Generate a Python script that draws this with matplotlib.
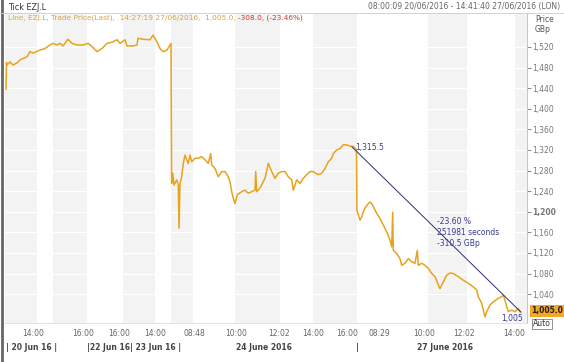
import matplotlib.pyplot as plt
from matplotlib.ticker import FixedLocator

plt.rcParams['font.family'] = ['DejaVu Sans']

# chart position (compressed tick axis) and trade price, GBp
pos = [6.0, 6.5, 7, 10, 13, 17, 20, 27, 30, 33, 40, 45, 50, 53, 57, 60, 63, 68, 72, 77, 83,
       88, 92, 97, 102, 107, 113, 117, 120, 125, 127, 133, 137, 138, 143, 150, 153, 157,
       160, 163, 167, 170, 171,
       171.6, 172.7, 174, 176.7, 178.3, 179, 180, 181.7, 183.3, 185, 186.7, 188.3, 190,
       191.7, 195, 198.3, 201.7, 205, 208.3, 210.7, 211.7, 215, 218.3, 221.7, 225, 228.3,
       230, 231.7, 233.3, 235, 237.3, 241.7, 245, 248.3, 251.7, 255, 255.7, 256.7, 260,
       265, 268.3, 271.7, 275, 278.3, 281.7, 285, 288.3, 291.7, 293.3, 296.7, 300, 303.3,
       306.7, 310, 313.3, 318.3, 321.7, 325, 328.3, 331.7, 333.3, 336.7, 340, 343.3,
       346.7, 350, 353.3, 356.5,
       356.9, 358.3, 360, 361.7, 363.3, 365, 368.3, 370, 371.7, 373.3, 376.7, 380, 383.3,
       386.7, 390, 391.7, 392.7, 393.3, 396.7, 400, 401.7, 405, 408.3, 411.7, 415, 417.3,
       418.3, 421.7, 425, 428.3, 431.7, 435, 438.3, 440, 443.3, 446.7, 450, 453.3, 458.3,
       463.3, 468.3, 473.3, 476.7, 478.3, 481.7, 483.3, 485, 486.7, 490, 493.3, 498.3,
       501.7, 503.3, 505, 506.7, 508.3, 511.7, 515, 518.3, 520]
price = [1438, 1490, 1485, 1491, 1485, 1489, 1495, 1501, 1511, 1508, 1514, 1517, 1524, 1527,
         1524, 1527, 1522, 1535, 1527, 1524, 1524, 1527, 1521, 1511, 1517, 1527, 1530, 1534,
         1527, 1534, 1522, 1522, 1524, 1537, 1535, 1534, 1543, 1530, 1517, 1511, 1514,
         1524, 1527,
         1255, 1275, 1252, 1262, 1252, 1168, 1255, 1268, 1294, 1310, 1301, 1294, 1310,
         1297, 1304, 1304, 1307, 1301, 1294, 1313, 1291, 1284, 1268, 1278, 1278, 1268,
         1258, 1239, 1226, 1216, 1233, 1239, 1242, 1236, 1239, 1242, 1278, 1239, 1246,
         1265, 1294, 1278, 1265, 1275, 1278, 1278, 1268, 1262, 1242, 1262, 1255, 1265,
         1272, 1278, 1278, 1272, 1275, 1284, 1297, 1304, 1313, 1320, 1323, 1330, 1330,
         1327, 1327, 1320,
         1203, 1194, 1184, 1190, 1200, 1207, 1216, 1219, 1216, 1210, 1197, 1187, 1174,
         1161, 1145, 1132, 1199, 1125, 1119, 1109, 1096, 1100, 1109, 1103, 1100, 1125,
         1096, 1100, 1096, 1090, 1080, 1074, 1058, 1051, 1064, 1077, 1081, 1080, 1074,
         1067, 1061, 1054, 1048, 1035, 1022, 1009, 996, 1006, 1019, 1025, 1032, 1035,
         1038, 1028, 1016, 1006, 1009, 1006, 1012, 1006]

band_edges = [5, 37, 53, 87, 123, 155, 171, 193, 235, 280, 313, 357, 428, 467, 515, 527]

time_pos = [33, 83, 119, 155, 194, 236, 279, 313, 347, 379, 424, 464, 514]
time_labels = ['14:00', '16:00', '16:00', '14:00', '08:48', '10:00', '12:02', '14:00',
               '16:00', '08:29', '10:00', '12:02', '14:00']
price_ticks = [1040, 1080, 1120, 1160, 1200, 1240, 1280, 1320, 1360, 1400, 1440, 1480, 1520]

trend_start = (352, 1326)
trend_end = (521, 1005)

W, H = 564, 362
fig = plt.figure(figsize=(W / 100, H / 100), dpi=100)
fig.patch.set_facecolor('white')
ax = fig.add_axes([5 / W, (H - 323) / H, 522 / W, 310 / H])

# alternating background bands
for i in range(len(band_edges) - 1):
    c = '#f3f3f3' if i % 2 == 0 else 'white'
    ax.axvspan(band_edges[i], band_edges[i + 1], color=c, lw=0, zorder=0)
for p in price_ticks:
    ax.axhline(p, color='white', lw=0.8, zorder=1)

ax.plot(pos, price, color='#e8a31c', lw=1.1, zorder=3)

# trend measurement
ax.plot([trend_start[0], trend_end[0]], [trend_start[1], trend_end[1]],
        color='#2e2e7a', lw=0.7, zorder=4)
ax.text(trend_start[0] + 3, trend_start[1] - 2, '1,315.5', color='#3a3a90', fontsize=5.5,
        va='center', ha='left', zorder=5)
ax.text(trend_end[0] - 9, trend_end[1] - 12, '1,005', color='#3a3a90', fontsize=5.5,
        va='center', ha='center', zorder=5)
ax.text(437, 1160, '-23.60 %\n251981 seconds\n-310.5 GBp', color='#3a3a90',
        fontsize=5.5, va='center', ha='left', linespacing=1.25, zorder=5)

ax.set_xlim(5, 527)
ax.set_ylim(984, 1586)

ax.yaxis.tick_right()
ax.yaxis.set_major_locator(FixedLocator(price_ticks))
ax.set_yticklabels([f'{p:,}' for p in price_ticks])
for lab in ax.get_yticklabels():
    if lab.get_text() == '1,200':
        lab.set_fontweight('bold')
        lab.set_color('#333333')
ax.tick_params(axis='y', which='both', direction='out', length=3, width=0.6,
               colors='#777777', labelsize=5.5, pad=1)
ax.set_xticks(time_pos)
ax.set_xticklabels(time_labels)
ax.tick_params(axis='x', direction='out', length=0, colors='#666666', labelsize=5.5, pad=4)

for s in ['top', 'left']:
    ax.spines[s].set_visible(False)
ax.spines['right'].set_color('#bbbbbb')
ax.spines['right'].set_linewidth(0.6)
ax.spines['bottom'].set_color('#dddddd')
ax.spines['bottom'].set_linewidth(0.6)

# date row
date_kw = dict(fontsize=5.5, fontweight='bold', color='#444444', va='center')
fig.text(6 / W, 1 - 348 / H, '| 20 Jun 16 |', ha='left', **date_kw)
fig.text(87 / W, 1 - 348 / H, '|22 Jun 16| 23 Jun 16 |', ha='left', **date_kw)
fig.text(264 / W, 1 - 348 / H, '24 June 2016', ha='center', **date_kw)
fig.text(357 / W, 1 - 348 / H, '|', ha='center', **date_kw)
fig.text(445 / W, 1 - 348 / H, '27 June 2016', ha='center', **date_kw)

# header
fig.text(8 / W, 1 - 7 / H, 'Tick EZJ.L', fontsize=5.8, color='#333333', va='center')
fig.text(560 / W, 1 - 7 / H, '08:00:09 20/06/2016 - 14:41:40 27/06/2016 (LON)',
         fontsize=5.5, color='#666666', va='center', ha='right')
t1 = fig.text(8 / W, 1 - 18 / H, 'Line, EZJ.L, Trade Price(Last),  14:27:19 27/06/2016,  1,005.0, ',
              fontsize=5.3, color='#d8a440', va='center')
fig.canvas.draw()
bb = t1.get_window_extent()
fig.text(bb.x1 / W, 1 - 18 / H, '-308.0, (-23.46%)', fontsize=5.3, color='#c0392b',
         va='center')
fig.text(535 / W, 1 - 19 / H, 'Price', fontsize=5.5, color='#555555', va='center')
fig.text(535 / W, 1 - 30 / H, 'GBp', fontsize=5.5, color='#555555', va='center')

# last price box and Auto button
fig.text(531 / W, 1 - 311 / H, '1,005.0', fontsize=5.5, fontweight='bold', color='#222222',
         va='center', bbox=dict(boxstyle='square,pad=0.15', fc='#f5a623', ec='none'))
fig.text(533 / W, 1 - 324 / H, 'Auto', fontsize=5.5, color='#333333', va='center',
         bbox=dict(boxstyle='square,pad=0.12', fc='white', ec='#666666', lw=0.5))

# frame
fig.add_artist(plt.Line2D([0.004, 0.004], [0, 1], transform=fig.transFigure,
                          color='#666666', lw=2))
fig.add_artist(plt.Line2D([0, 1], [1 - 13 / H, 1 - 13 / H], transform=fig.transFigure,
                          color='#cccccc', lw=0.6))

fig.savefig('out.png', dpi=100)
